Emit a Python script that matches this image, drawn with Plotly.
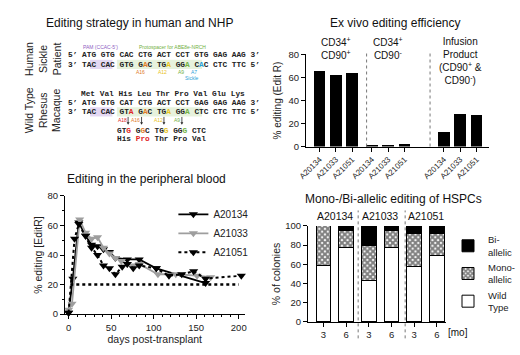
import plotly.graph_objects as go

W, H = 520, 355
def px(x): return x / W
def py(y): return 1 - y / H

FONT = "Arial, 'Liberation Sans', sans-serif"
MONO = "'Liberation Mono', 'Courier New', monospace"

# ---------------- data ----------------
animals = ["A20134", "A21033", "A21051"]
exvivo_groups = ["CD34<sup>+</sup><br>CD90<sup>+</sup>",
                 "CD34<sup>+</sup><br>CD90<sup>-</sup>",
                 "Infusion<br>Product<br>(CD90<sup>+</sup> &amp;<br>CD90<sup>-</sup>)"]
exvivo_cd90pos = [66, 62, 64]
exvivo_cd90neg = [1.5, 1.5, 2.5]
exvivo_infusion = [13, 28, 27]

days_A20134 = [0, 5, 12, 20, 27, 34, 41, 48, 55, 69, 83, 103, 161]
pct_A20134 = [1, 24, 62, 53, 47, 46, 44, 42, 38, 37, 37, 31, 21]
days_A21033 = [0, 4, 13, 20, 27, 34, 41, 48, 55, 62, 69, 76, 83, 105, 126, 151, 167]
pct_A21033 = [3, 7, 64, 55, 51, 52, 45, 41, 38, 36, 34, 33, 34, 27, 27, 26, 25]
days_A21051 = [0, 7, 12, 20, 27, 34, 41, 48, 55, 63, 69, 76, 83, 103, 118, 133, 147, 161, 203]
pct_A21051 = [1, 51, 61, 53, 45, 40, 33, 31, 27, 32, 34, 31, 33, 31, 26, 27, 29, 24, 26]
threshold = 20

colony_months = ["3", "6", "3", "6", "3", "6"]
colony_wild_type = [59, 78, 43, 78, 58, 69]
colony_mono = [41, 17, 37, 17, 34, 23]
colony_bi = [0, 5, 20, 5, 8, 8]

seq_h1 = "5’ ATG GTG CAC CTG ACT CCT GTG GAG AAG 3’"
seq_h2 = "3’ TAC CAC GTG GAC TGA GGA CAC CTC TTC 5’"
seq_r0 = "Met Val His Leu Thr Pro Val Glu Lys"
seq_r1 = "5’ ATG GTG CAT CTG ACT CCT GAG GAG AAG 3’"
seq_r2 = "3’ TAC CAC GTA GAC TGA GGA CTC CTC TTC 5’"
seq_r3 = "GTG GGC TGG GGG CTC"
seq_r4 = "His Pro Thr Pro Val"

RED, ORA, YEL, GRN, BLU, PUR = "#e02424", "#e07b28", "#e8c21c", "#72b043", "#2a9fd8", "#8e5cc2"

fig = go.Figure()

def label(text, x, y, size, color="#111", xanchor="center", yanchor="middle", xref="paper", angle=0,
          family=FONT, weight="normal"):
    fig.add_annotation(x=x if xref != "paper" else px(x), y=py(y), xref=xref, yref="paper", text=text,
                       showarrow=False, xanchor=xanchor, yanchor=yanchor, textangle=angle,
                       borderpad=0, borderwidth=0,
                       font=dict(size=size, family=family, color=color, weight=weight))

# ---------------- top-right: ex vivo bars ----------------
group_starts = [0, 3.2, 7.6]
tick_x, tick_t = [], []
for g, vals in enumerate([exvivo_cd90pos, exvivo_cd90neg, exvivo_infusion]):
    xs = [group_starts[g] + j for j in range(3)]
    tick_x += xs
    tick_t += animals
    fig.add_trace(go.Bar(x=xs, y=vals, width=0.72, marker=dict(color="black", line=dict(width=0)),
                         showlegend=False, xaxis="x", yaxis="y"))
    label(exvivo_groups[g], group_starts[g] + 1, 31, 10, xref="x", yanchor="top")
for sx in [2.88, 6.76]:
    fig.add_shape(type="line", xref="x", yref="paper", x0=sx, x1=sx, y0=py(145), y1=py(47),
                  line=dict(color="#777", width=1, dash="dot"))

# ---------------- bottom-left: PB lines ----------------
mk = dict(symbol="triangle-down", size=8)
fig.add_trace(go.Scatter(x=days_A20134, y=pct_A20134, name="A20134", mode="lines+markers",
                         line=dict(color="black", width=1.8), marker=dict(color="black", **mk),
                         xaxis="x2", yaxis="y2", legend="legend", cliponaxis=False))
fig.add_trace(go.Scatter(x=days_A21033, y=pct_A21033, name="A21033", mode="lines+markers",
                         line=dict(color="#9e9e9e", width=1.8), marker=dict(color="#9e9e9e", **mk),
                         xaxis="x2", yaxis="y2", legend="legend", cliponaxis=False))
fig.add_trace(go.Scatter(x=days_A21051, y=pct_A21051, name="A21051", mode="lines+markers",
                         line=dict(color="black", width=2, dash="dot"), marker=dict(color="black", **mk),
                         xaxis="x2", yaxis="y2", legend="legend", cliponaxis=False))
fig.add_shape(type="line", xref="x2", yref="y2", x0=2, x1=200, y0=threshold, y1=threshold,
              line=dict(color="black", width=2.5, dash="dot"))

# ---------------- bottom-right: colonies ----------------
cx_pos = list(range(len(colony_months)))
fig.add_trace(go.Bar(x=cx_pos, y=colony_wild_type, name="Wild<br>Type", width=0.64,
                     marker=dict(color="white", line=dict(color="black", width=1)),
                     xaxis="x3", yaxis="y3", legend="legend2"))
fig.add_trace(go.Bar(x=cx_pos, y=colony_mono, name="Mono-<br>allelic", width=0.64,
                     marker=dict(color="white", line=dict(color="black", width=1),
                                 pattern=dict(shape="x", fgcolor="black", bgcolor="white", size=4, solidity=0.75)),
                     xaxis="x3", yaxis="y3", legend="legend2"))
fig.add_trace(go.Bar(x=cx_pos, y=colony_bi, name="Bi-<br>allelic", width=0.64,
                     marker=dict(color="black", line=dict(color="black", width=1)),
                     xaxis="x3", yaxis="y3", legend="legend2"))
for i, a in enumerate(animals):
    label(a, 2 * i + 0.5, 217, 10.5, xref="x3")
for sx in [1.53, 3.6]:
    fig.add_shape(type="line", xref="x3", yref="paper", x0=sx, x1=sx, y0=py(343), y1=py(211),
                  line=dict(color="#777", width=1, dash="dot"))
label("[mo]", 468, 337, 10)

# ---------------- titles ----------------
for t, x, y in [("Editing strategy in human and NHP", 137, 18), ("Ex vivo editing efficiency", 403, 18),
                ("Editing in the peripheral blood", 144, 179), ("Mono-/Bi-allelic editing of HSPCs", 401, 199)]:
    label(t, x, y, 12)

# ---------------- top-left: sequences ----------------
X0, CW = 62, 4.66
def cx(i): return X0 + i * CW
def colored(s, cmap):
    out = ""
    for i, ch in enumerate(s):
        out += f"<span style='color:{cmap[i]}'>{ch}</span>" if i in cmap else ch
    return out

for (y0, y1) in [(55.5, 65), (104.5, 114)]:
    fig.add_shape(type="rect", xref="paper", yref="paper", x0=px(cx(5)), x1=px(cx(10)), y0=py(y1), y1=py(y0),
                  fillcolor="#e4d8f3", line=dict(width=0), layer="below")
    fig.add_shape(type="rect", xref="paper", yref="paper", x0=px(cx(11)), x1=px(cx(30)), y0=py(y1), y1=py(y0),
                  fillcolor="#e7f2dd", line=dict(width=0), layer="below")

def seq(text, x, y, size=7.8):
    label(text, x, y, size, color="#222", xanchor="left", family=MONO, weight="bold")

seq(seq_h1, cx(0), 50.5)
seq(colored(seq_h2, {16: ORA, 21: YEL, 25: GRN, 28: BLU}), cx(0), 60.5)
seq(seq_r0, cx(3), 91)
seq(seq_r1, cx(0), 100)
seq(colored(seq_r2, {13: RED, 16: ORA, 21: YEL, 25: GRN}), cx(0), 109)
seq(colored(seq_r3, {2: RED, 5: ORA, 10: YEL, 14: GRN}), cx(11), 128.5)
seq(colored(seq_r4, {4: RED, 5: RED, 6: RED}), cx(11), 137.5)

label("PAM (CCAC-5’)", 96, 42.5, 5, color=PUR)
label("Protospacer for ABE8e-NRCH", 171, 42.5, 5, color=GRN)
for lab, idx, col in [("A16", 16, ORA), ("A12", 21, YEL), ("A9", 25, GRN), ("A7", 28, BLU)]:
    label(lab, cx(idx) + 1.3, 68.5, 5, color=col)
label("Sickle", 191, 74.5, 5, color=BLU)
for lab, idx, col in [("A18", 13, RED), ("A16", 16, ORA), ("A12", 21, YEL), ("A9", 25, GRN)]:
    xc = cx(idx) + CW / 2
    label(lab, xc - 1.5, 117.5, 5, color=col, xanchor="right")
    fig.add_shape(type="line", xref="paper", yref="paper", x0=px(xc), x1=px(xc), y0=py(114.5), y1=py(120.5),
                  line=dict(color="#222", width=0.8))
    fig.add_shape(type="path", xref="paper", yref="paper", fillcolor="#222", line=dict(width=0),
                  path=f"M {px(xc-1.5)} {py(120)} L {px(xc+1.5)} {py(120)} L {px(xc)} {py(122.5)} Z")

for t, y in [("Human<br>Sickle<br>Patient", 55), ("Wild Type<br>Rhesus<br>Macaque", 108)]:
    label(t, 36, y, 10.5, color="#222", angle=-90)

# ---------------- layout ----------------
ax_common = dict(showline=True, linecolor="black", linewidth=1.2, ticks="outside", tickcolor="black",
                 ticklen=4, tickwidth=1.2, showgrid=False, zeroline=False,
                 tickfont=dict(size=9.5, family=FONT, color="#222"))

fig.update_layout(
    width=W, height=H, margin=dict(l=0, r=0, t=0, b=0),
    paper_bgcolor="white", plot_bgcolor="white", barmode="stack",
    font=dict(family=FONT, color="#222"),
    xaxis=dict(domain=[px(310), px(500)], range=[-0.82, 10.35], anchor="y",
               tickvals=tick_x, ticktext=tick_t, tickangle=-45, **{**ax_common, "tickfont": dict(size=8, family=FONT, color="#222")}),
    yaxis=dict(domain=[py(145), py(50)], range=[0, 80], anchor="x", tickvals=[0, 20, 40, 60, 80],
               title=dict(text="% editing (Edit R)", standoff=4, font=dict(size=10, family=FONT)), **ax_common),
    xaxis2=dict(domain=[px(59.3), px(246)], range=[-4.2, 206.8], anchor="y2", tickvals=[0, 50, 100, 150, 200],
                minor=dict(dtick=10, tick0=0, ticklen=2, ticks="outside", tickcolor="black"),
                title=dict(text="days post-transplant", standoff=2, font=dict(size=10.5, family=FONT)), **ax_common),
    yaxis2=dict(domain=[py(318), py(196)], range=[0, 80], anchor="x2", tickvals=[0, 20, 40, 60, 80],
                minor=dict(dtick=10, tick0=0, ticklen=2, ticks="outside", tickcolor="black"),
                title=dict(text="% editing [EditR]", standoff=2, font=dict(size=10.5, family=FONT)), **ax_common),
    xaxis3=dict(domain=[px(312), px(456)], range=[-0.68, 5.42], anchor="y3", tickvals=cx_pos, ticktext=colony_months,
                **ax_common),
    yaxis3=dict(domain=[py(326), py(227)], range=[0, 100], anchor="x3", tickvals=[0, 20, 40, 60, 80, 100],
                title=dict(text="% of colonies", standoff=2, font=dict(size=10.5, family=FONT)), **ax_common),
    legend=dict(x=px(172), y=py(200), xanchor="left", yanchor="top", bgcolor="rgba(0,0,0,0)",
                font=dict(size=10, family=FONT, color="#222"), itemwidth=30, tracegroupgap=0,
                traceorder="normal"),
    legend2=dict(x=px(458), y=py(228), xanchor="left", yanchor="top", bgcolor="rgba(0,0,0,0)",
                 font=dict(size=9.5, family=FONT, color="#222"), traceorder="reversed", itemwidth=30),
)

fig.write_html("out.html", post_script="document.body.style.margin='0';",
               config={"displayModeBar": False})
